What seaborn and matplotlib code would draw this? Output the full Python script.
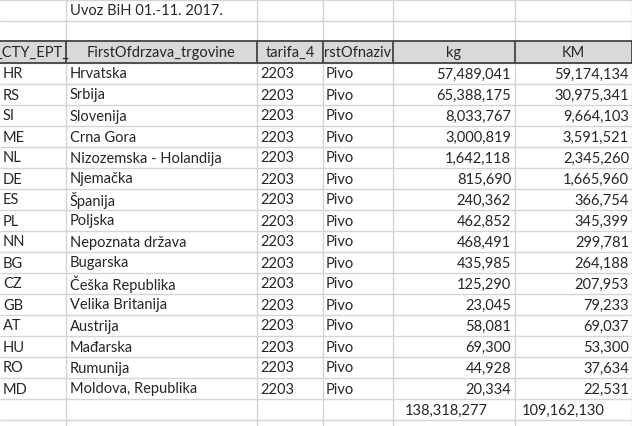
import matplotlib
matplotlib.use("Agg")
import matplotlib.pyplot as plt
import seaborn as sns

title = "Uvoz BiH 01.-11. 2017."
headers = ["_CTY_EPT_", "FirstOfdrzava_trgovine", "tarifa_4", "rstOfnaziv", "kg", "KM"]
codes = ["HR", "RS", "SI", "ME", "NL", "DE", "ES", "PL", "NN", "BG", "CZ", "GB", "AT", "HU", "RO", "MD"]
countries = ["Hrvatska", "Srbija", "Slovenija", "Crna Gora", "Nizozemska - Holandija", "Njemačka",
             "Španija", "Poljska", "Nepoznata država", "Bugarska", "Češka Republika",
             "Velika Britanija", "Austrija", "Mađarska", "Rumunija", "Moldova, Republika"]
tariff = ["2203"] * 16
product = ["Pivo"] * 16
kg = [57489041, 65388175, 8033767, 3000819, 1642118, 815690, 240362, 462852, 468491,
      435985, 125290, 23045, 58081, 69300, 44928, 20334]
km = [59174134, 30975341, 9664103, 3591521, 2345260, 1665960, 366754, 345399, 299781,
      264188, 207953, 79233, 69037, 53300, 37634, 22531]
# totals as shown in the sheet (computed from unrounded source values)
kg_total = 138318277
km_total = 109162130

sns.set_style("white")
plt.rcParams['font.family'] = ['Lato', 'DejaVu Sans']

fig = plt.figure(figsize=(6.32, 4.26), dpi=100)
ax = fig.add_axes([0, 0, 1, 1])
ax.set_xlim(0, 632)
ax.set_ylim(426, 0)
ax.axis("off")

cols = [0, 66, 257, 323, 393, 515, 632]
row_h = 21
header_top = 41
data_top = header_top + 22
fs = 10.5

# light grid
n_rows = len(codes) + 1
for y in [0, 21, header_top] + [data_top + i * row_h for i in range(n_rows + 1)]:
    ax.hlines(y, 0, 632, color="#d4d4d4", lw=1)
for x in cols[1:]:
    ax.vlines(x, 0, 426, color="#d4d4d4", lw=1)

# header
ax.add_patch(plt.Rectangle((0, header_top), 632, data_top - header_top,
                           facecolor="#d9d9d9", edgecolor="none"))
ax.hlines([header_top, data_top], 0, 632, color="#444444", lw=1.3)
for x in cols[1:]:
    ax.vlines(x, header_top, data_top, color="#444444", lw=1.3)
for i, h in enumerate(headers):
    cx = (cols[i] + cols[i + 1]) / 2
    t = ax.text(cx, (header_top + data_top) / 2 + 1, h, ha="center", va="center", fontsize=fs)
    clip = plt.Rectangle((cols[i] + 1, header_top), cols[i + 1] - cols[i] - 2,
                         data_top - header_top, transform=ax.transData, visible=False)
    ax.add_patch(clip)
    t.set_clip_path(clip)

ax.text(cols[1] + 4, 11, title, ha="left", va="center", fontsize=fs)

for i in range(len(codes)):
    yc = data_top + i * row_h + row_h / 2 + 1
    ax.text(cols[0] + 3, yc, codes[i], ha="left", va="center", fontsize=fs)
    ax.text(cols[1] + 4, yc, countries[i], ha="left", va="center", fontsize=fs)
    ax.text(cols[2] + 3, yc, tariff[i], ha="left", va="center", fontsize=fs)
    ax.text(cols[3] + 3, yc, product[i], ha="left", va="center", fontsize=fs)
    ax.text(cols[5] - 4, yc, f"{kg[i]:,}", ha="right", va="center", fontsize=fs)
    ax.text(cols[6] - 3, yc, f"{km[i]:,}", ha="right", va="center", fontsize=fs)

yc = data_top + len(codes) * row_h + row_h / 2 + 1
ax.text(cols[4] + 12, yc, f"{kg_total:,}", ha="left", va="center", fontsize=fs)
ax.text(cols[5] + 7, yc, f"{km_total:,}", ha="left", va="center", fontsize=fs)

fig.savefig("out.png", dpi=100)
